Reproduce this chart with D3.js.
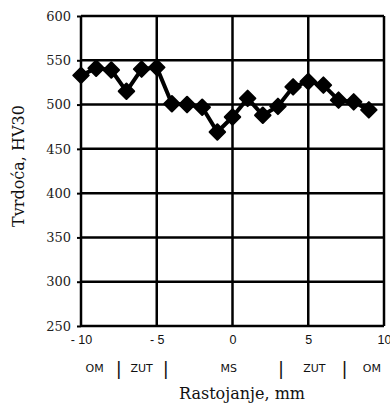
<!DOCTYPE html>
<html>
<head>
<meta charset="utf-8">
<script src="https://cdn.jsdelivr.net/npm/d3@7"></script>
<style>
  body { margin: 0; background: #fff; }
  svg { display: block; }
</style>
</head>
<body>
<svg id="chart" width="390" height="403"></svg>
<script>
// distance from weld centre, mm
const dist = [-10, -9, -8, -7, -6, -5, -4, -3, -2, -1, 0, 1, 2, 3, 4, 5, 6, 7, 8, 9]
// hardness HV30
const hard = [533, 541, 539, 515, 540, 542, 501, 500, 497, 469, 486, 507, 488, 498, 520, 526, 522, 505, 503, 494]

const xTicks = [-10, -5, 0, 5, 10]
const yTicks = [250, 300, 350, 400, 450, 500, 550, 600]

// zone labels under the axis
const zones = [
	{t: 'OM', x: -9.1}, {t: '|', x: -7.5}, {t: 'ZUT', x: -6.0}, {t: '|', x: -4.4},
	{t: 'MS', x: -0.25}, {t: '|', x: 3.2}, {t: 'ZUT', x: 5.4}, {t: '|', x: 7.4}, {t: 'OM', x: 9.2}
]

const x0 = 81, x1 = 384, y0 = 16, y1 = 326

let svg = d3.select('#chart')

let x = d3.scaleLinear().domain([-10, 10]).range([x0, x1])
let y = d3.scaleLinear().domain([250, 600]).range([y1, y0])

// grid
let grid = svg.append('g').attr('id', 'grid')
grid.selectAll('line.h').data(yTicks).enter().append('line')
	.attr('x1', x0).attr('x2', x1)
	.attr('y1', d => y(d)).attr('y2', d => y(d))
	.attr('stroke', '#000').attr('stroke-width', 2.5)
grid.selectAll('line.v').data(xTicks).enter().append('line')
	.attr('x1', d => x(d)).attr('x2', d => x(d))
	.attr('y1', y0).attr('y2', y1)
	.attr('stroke', '#000').attr('stroke-width', 2.5)

// y axis
let yAxis = svg.append('g')
	.attr('transform', `translate(${x0},0)`)
	.call(d3.axisLeft(y).tickValues(yTicks).tickSize(4).tickPadding(6))
yAxis.select('.domain').remove()
yAxis.selectAll('.tick line').attr('stroke', '#000').attr('stroke-width', 2)
yAxis.selectAll('.tick text')
	.style('font-family', '"DejaVu Serif", serif')
	.style('font-size', '13px')
	.attr('fill', '#222')

// x axis
let xAxis = svg.append('g')
	.attr('transform', `translate(0,${y1})`)
	.call(d3.axisBottom(x).tickValues(xTicks).tickSize(0).tickPadding(9))
xAxis.select('.domain').remove()
xAxis.selectAll('.tick text')
	.text(d => d < 0 ? '- ' + Math.abs(d) : d)
	.style('font-family', '"Liberation Sans", Arial, sans-serif')
	.style('font-size', '12.5px')
	.attr('fill', '#111')

// zones
svg.append('g').selectAll('text').data(zones).enter().append('text')
	.attr('x', d => x(d.x)).attr('y', d => d.t == '|' ? 375 : 372)
	.attr('text-anchor', 'middle')
	.style('font-family', '"DejaVu Sans", sans-serif')
	.style('font-size', d => d.t == '|' ? '18px' : '11px')
	.attr('fill', '#111')
	.text(d => d.t)

// axis titles
svg.append('text')
	.attr('x', 242).attr('y', 399)
	.attr('text-anchor', 'middle')
	.style('font-family', '"DejaVu Serif", serif')
	.style('font-size', '16px')
	.attr('fill', '#111')
	.text('Rastojanje, mm')
svg.append('text')
	.attr('transform', 'translate(24,166) rotate(-90)')
	.attr('text-anchor', 'middle')
	.style('font-family', '"DejaVu Serif", serif')
	.style('font-size', '16px')
	.attr('fill', '#111')
	.text('Tvrdoća, HV30')

// data
let pts = dist.map((d, i) => [d, hard[i]])
let line = d3.line().x(d => x(d[0])).y(d => y(d[1]))
svg.append('path')
	.attr('d', line(pts))
	.attr('fill', 'none')
	.attr('stroke', '#000')
	.attr('stroke-width', 4)
	.attr('stroke-linejoin', 'round')

let sym = d3.symbol().type(d3.symbolSquare).size(120)
svg.append('g').selectAll('path').data(pts).enter().append('path')
	.attr('d', sym)
	.attr('transform', d => `translate(${x(d[0])},${y(d[1])}) rotate(45)`)
	.attr('fill', '#000')
	.attr('stroke', '#000')
	.attr('stroke-width', 2)
	.attr('stroke-linejoin', 'round')
</script>
</body>
</html>
